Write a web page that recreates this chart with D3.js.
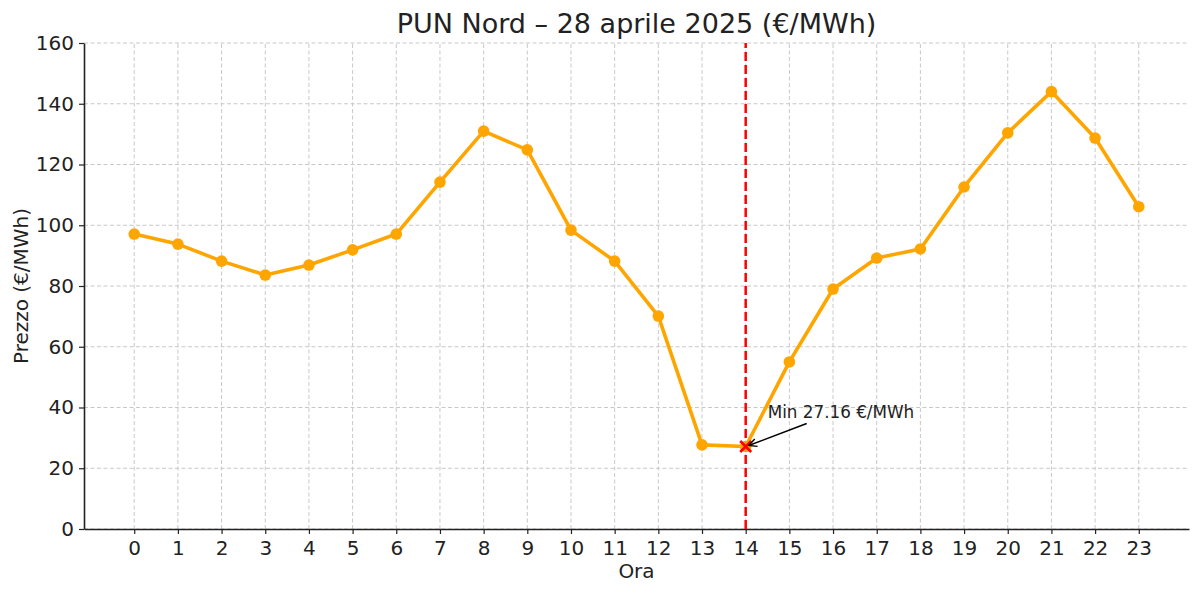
<!DOCTYPE html>
<html lang="it">
<head>
<meta charset="UTF-8">
<title>PUN Nord – 28 aprile 2025</title>
<script src="https://d3js.org/d3.v7.min.js"></script>
<style>
    body { margin: 0; padding: 0; background: #fff; overflow: hidden; }
    text { font-family: "DejaVu Sans", sans-serif; fill: #222; }
    .grid line { stroke: #c8c8c8; stroke-dasharray: 4,2.5; stroke-width: 1; }
    .axis path, .axis line { stroke: #222; }
</style>
</head>
<body>
<script>
    // dati
    const hours = d3.range(0, 24);
    const prices = [97.1, 93.8, 88.2, 83.6, 86.9, 91.9, 97.1, 114.2, 131.0, 124.8, 98.4, 88.2,
                    70.1, 27.7, 27.16, 55.0, 79.0, 89.2, 92.2, 112.6, 130.4, 144.0, 128.7, 106.1];
    const yTicks = [0, 20, 40, 60, 80, 100, 120, 140, 160];
    const minHour = 14;
    const minPrice = 27.16;

    const width = 1200, height = 594;
    const margin = { top: 43, right: 11, bottom: 65, left: 84 };

    const svg = d3.select("body").append("svg")
        .attr("width", width)
        .attr("height", height);

    const x = d3.scaleLinear().domain([-1.15, 24.15]).range([margin.left, width - margin.right]);
    const y = d3.scaleLinear().domain([0, 160]).range([height - margin.bottom, margin.top]);

    // griglia
    svg.append("g").attr("class", "grid")
        .selectAll("line").data(hours).enter().append("line")
        .attr("x1", d => x(d)).attr("x2", d => x(d))
        .attr("y1", y(0)).attr("y2", y(160));
    svg.append("g").attr("class", "grid")
        .selectAll("line").data(yTicks).enter().append("line")
        .attr("x1", x(-1.15)).attr("x2", x(24.15))
        .attr("y1", d => y(d)).attr("y2", d => y(d));

    // assi
    const xAxis = svg.append("g").attr("class", "axis")
        .attr("transform", `translate(0,${y(0)})`)
        .call(d3.axisBottom(x).tickValues(hours).tickFormat(d3.format("d")).tickSize(5).tickSizeOuter(0));
    const yAxis = svg.append("g").attr("class", "axis")
        .attr("transform", `translate(${x(-1.15)},0)`)
        .call(d3.axisLeft(y).tickValues(yTicks).tickSize(5).tickSizeOuter(0));
    svg.selectAll(".axis path").attr("stroke-width", 1.6);
    svg.selectAll(".axis line").attr("stroke-width", 1.2);
    svg.selectAll(".axis text").style("font-size", "20px").attr("fill", "#222");
    xAxis.selectAll("text").attr("dy", "0.9em");
    yAxis.selectAll("text").attr("dx", "-0.1em");

    // etichette
    svg.append("text").attr("x", (x(-1.15) + x(24.15)) / 2).attr("y", 33)
        .attr("text-anchor", "middle").style("font-size", "27px").attr("fill", "#333")
        .text("PUN Nord – 28 aprile 2025 (€/MWh)");
    svg.append("text").attr("x", (x(-1.15) + x(24.15)) / 2).attr("y", 578)
        .attr("text-anchor", "middle").style("font-size", "20px")
        .text("Ora");
    svg.append("text")
        .attr("transform", `translate(28,${(y(0) + y(160)) / 2}) rotate(-90)`)
        .attr("text-anchor", "middle").style("font-size", "20px")
        .text("Prezzo (€/MWh)");

    // linea minimo
    svg.append("line")
        .attr("x1", x(minHour)).attr("x2", x(minHour))
        .attr("y1", y(0)).attr("y2", y(160))
        .attr("stroke", "#ff0000").attr("stroke-width", 2.5)
        .attr("stroke-dasharray", "9,4");

    // serie
    const line = d3.line().x((d, i) => x(hours[i])).y(d => y(d));
    svg.append("path").datum(prices)
        .attr("d", line)
        .attr("fill", "none")
        .attr("stroke", "#ffa500")
        .attr("stroke-width", 3.6)
        .attr("stroke-linejoin", "round");
    svg.selectAll(".dot").data(prices).enter().append("circle")
        .attr("class", "dot")
        .attr("cx", (d, i) => x(hours[i]))
        .attr("cy", d => y(d))
        .attr("r", 5.8)
        .attr("fill", "#ffa500");

    // marcatore minimo
    const mx = x(minHour), my = y(minPrice), s = 5.5;
    svg.append("path")
        .attr("d", `M${mx - s},${my - s}L${mx + s},${my + s}M${mx - s},${my + s}L${mx + s},${my - s}`)
        .attr("stroke", "#ff0000").attr("stroke-width", 2.6);

    // annotazione
    const defs = svg.append("defs");
    defs.append("marker").attr("id", "arr")
        .attr("viewBox", "0 0 10 10").attr("refX", 9).attr("refY", 5)
        .attr("markerWidth", 10).attr("markerHeight", 10)
        .attr("markerUnits", "userSpaceOnUse")
        .attr("orient", "auto")
        .append("path").attr("d", "M1,1 L9,5 L1,9").attr("fill", "none")
        .attr("stroke", "#000").attr("stroke-width", 1.4);
    svg.append("line")
        .attr("x1", x(minHour) + 61).attr("y1", y(minPrice) - 23)
        .attr("x2", mx + 3).attr("y2", my - 1)
        .attr("stroke", "#000").attr("stroke-width", 1.5)
        .attr("marker-end", "url(#arr)");
    svg.append("text")
        .attr("x", x(minHour) + 22).attr("y", y(minPrice) - 29)
        .style("font-size", "16.8px").attr("fill", "#333")
        .text(`Min ${minPrice} €/MWh`);
</script>
</body>
</html>
